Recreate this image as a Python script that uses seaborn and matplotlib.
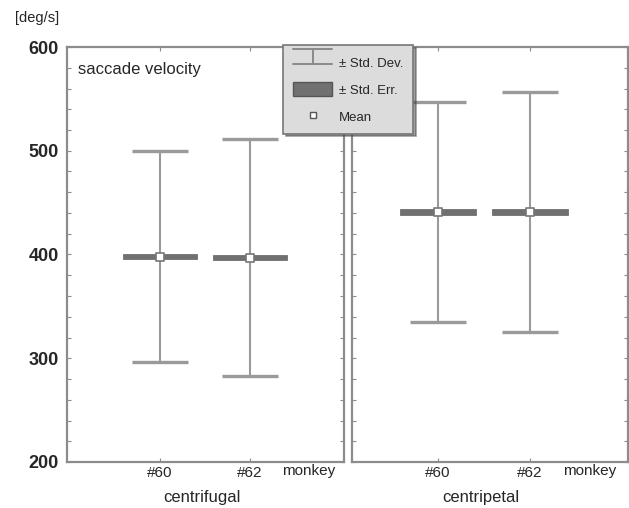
import seaborn as sns
import matplotlib.pyplot as plt
import pandas as pd
from matplotlib.lines import Line2D
from matplotlib.patches import Patch
from matplotlib.legend_handler import HandlerBase
from matplotlib.ticker import MultipleLocator

monkeys = ['#60', '#62']
directions = ['centrifugal', 'centripetal']
mean_vel = {'centrifugal': [398, 397], 'centripetal': [441, 441]}
sd_vel = {'centrifugal': [102, 114], 'centripetal': [106, 116]}
se_vel = {'centrifugal': [2.5, 2.5], 'centripetal': [2.5, 2.5]}

rows = []
for d in directions:
    for i, m in enumerate(monkeys):
        rows.append({'direction': d, 'monkey': m, 'mean': mean_vel[d][i],
                     'sd': sd_vel[d][i], 'se': se_vel[d][i]})
df = pd.DataFrame(rows)

sns.set_style('white')
plt.rcParams['font.family'] = ['Liberation Sans', 'DejaVu Sans']

fig = plt.figure(figsize=(6.29, 5.08), dpi=100)
ax_l = fig.add_axes([67 / 629, 1 - 462 / 508, 277 / 629, 415 / 508])
ax_r = fig.add_axes([352 / 629, 1 - 462 / 508, 276 / 629, 415 / 508])

frame = '#8c8c8c'
for ax, d, xl in [(ax_l, 'centrifugal', (-1.03, 2.04)), (ax_r, 'centripetal', (-0.935, 2.065))]:
    sub = df[df['direction'] == d]
    x = list(range(len(sub)))
    # std dev whiskers
    ax.errorbar(x, sub['mean'], yerr=sub['sd'], fmt='none', ecolor='#9a9a9a',
                elinewidth=1.5, capsize=20.5, capthick=2.4, zorder=2)
    # std err boxes
    ax.bar(x, 2 * sub['se'], bottom=sub['mean'] - sub['se'], width=0.82,
           color='#707070', edgecolor='#707070', linewidth=0.6, zorder=3)
    sns.scatterplot(x=x, y=sub['mean'].values, ax=ax, marker='s', s=26,
                    color='white', edgecolor='#777777', linewidth=1.2, zorder=4)
    ax.set_xlim(*xl)
    ax.set_ylim(200, 600)
    ax.set_xticks(x)
    ax.set_xticklabels(monkeys, fontsize=11)
    ax.yaxis.set_minor_locator(MultipleLocator(20))
    ax.tick_params(axis='both', which='both', direction='in', color=frame,
                   top=True, right=True, left=True, bottom=True, length=3, width=0.8)
    ax.tick_params(axis='x', pad=3)
    for s in ax.spines.values():
        s.set_color(frame)
        s.set_linewidth(1.6)
    ax.text(1.65, -0.022, 'monkey', transform=ax.get_xaxis_transform(),
            ha='center', va='center', fontsize=11)
    ax.text(0.47, -0.085, d, transform=ax.get_xaxis_transform(),
            ha='center', va='center', fontsize=12)

ax_l.set_yticks([200, 300, 400, 500, 600])
ax_l.set_yticklabels(['200', '300', '400', '500', '600'], fontsize=13, fontweight='bold')
ax_l.tick_params(axis='y', pad=6)
ax_r.set_yticks([200, 300, 400, 500, 600])
ax_r.set_yticklabels([])
ax_l.text(0.04, 0.965, 'saccade velocity', transform=ax_l.transAxes,
          ha='left', va='top', fontsize=12)
fig.text(15 / 629, 1 - 18 / 508, '[deg/s]', ha='left', va='center', fontsize=10.5)


class SDHandler(HandlerBase):
    def create_artists(self, legend, orig_handle, xd, yd, width, height, fontsize, trans):
        c = '#8a8a8a'
        top = Line2D([xd, xd + width], [yd + height, yd + height], color=c, lw=1.4, transform=trans)
        bot = Line2D([xd, xd + width], [yd, yd], color=c, lw=1.4, transform=trans)
        mid = Line2D([xd + width / 2] * 2, [yd, yd + height], color=c, lw=1.4, transform=trans)
        return [top, bot, mid]


sd_handle = Line2D([], [])
handles = [sd_handle,
           Patch(facecolor='#707070', edgecolor='#555555'),
           Line2D([], [], marker='s', linestyle='none', markerfacecolor='white',
                  markeredgecolor='#555555', markersize=5)]
leg = fig.legend(handles, ['\u00b1 Std. Dev.', '\u00b1 Std. Err.', 'Mean'],
                 handler_map={sd_handle: SDHandler()},
                 loc='upper left', bbox_to_anchor=(283 / 629, 1 - 45 / 508),
                 borderaxespad=0, fontsize=9.5, frameon=True, fancybox=False, shadow=True,
                 facecolor='#dcdcdc', edgecolor='#777777', framealpha=1,
                 handlelength=3.0, handleheight=1.3, labelspacing=0.95,
                 borderpad=0.75, handletextpad=0.5)
leg.get_frame().set_linewidth(1.2)

fig.savefig('out.png', dpi=100)
